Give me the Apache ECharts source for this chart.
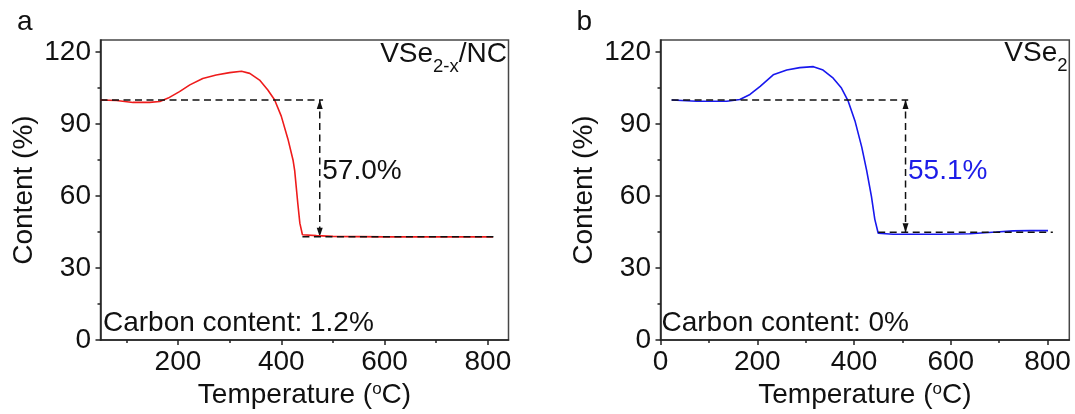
<!DOCTYPE html>
<html>
<head>
<meta charset="utf-8">
<script src="https://cdn.jsdelivr.net/npm/echarts@6/dist/echarts.min.js"></script>
<style>
  html, body { margin: 0; padding: 0; background: #fff; }
  #chart { width: 1075px; height: 414px; }
</style>
</head>
<body>
<div id="chart"></div>
<script>
// TGA curve of VSe2-x/NC (temperature in °C, remaining mass in %)
const tempA = [50, 81, 113, 145, 165, 181, 203, 223, 248, 274, 300, 323, 339, 358, 374, 387, 400, 413, 423, 426, 432, 436, 441, 468, 500, 600, 700, 810];
const contentA = [100.0, 99.8, 99.0, 99.0, 99.4, 100.8, 103.5, 106.3, 109.0, 110.4, 111.4, 112.0, 111.1, 108.3, 104.2, 100.1, 93.3, 83.7, 74.8, 70.6, 57.0, 48.7, 43.9, 43.5, 43.2, 43.0, 43.0, 43.0];

// TGA curve of VSe2
const tempB = [23, 75, 137, 164, 185, 206, 233, 261, 288, 316, 336, 357, 374, 388, 402, 416, 426, 436, 443, 450, 481, 525, 580, 639, 694, 729, 764, 801];
const contentB = [100.0, 99.5, 99.5, 100.2, 102.3, 105.7, 110.5, 112.5, 113.5, 113.9, 112.5, 109.1, 105.0, 99.5, 91.3, 80.4, 70.8, 59.9, 50.3, 44.5, 44.1, 44.1, 44.1, 44.3, 45.0, 45.5, 45.6, 45.6];

// mass loss between the start plateau and the final residue
const lossA = 57.0;
const lossB = 55.1;

// tick values
const yTicks = [0, 30, 60, 90, 120];
const yMinorTicks = [15, 45, 75, 105];
const xTicksA = [200, 400, 600, 800];
const xTicksB = [0, 200, 400, 600, 800];
const xMinorTicks = [100, 300, 500, 700];

const FONT = 'Liberation Sans, Arial, Helvetica, sans-serif';
const INK = '#111';
const AXIS = '#222';

const panels = [
  { temp: tempA, content: contentA, loss: lossA, color: '#ee1b1b', labelColor: INK,
    xMin: 50, xMax: 840, xTicks: xTicksA,
    grid: { left: 100.5, right: 566.5, top: 40, bottom: 70.5 },
    upper: [50, 481], lower: [441, 812], arrowX: 474.5 },
  { temp: tempB, content: contentB, loss: lossB, color: '#1818ee', labelColor: '#1c1ce8',
    xMin: 0, xMax: 845, xTicks: xTicksB,
    grid: { left: 660.5, right: 5.7, top: 40, bottom: 70 },
    upper: [23, 512], lower: [450, 811], arrowX: 506.5 }
];

const grids = [], xAxes = [], yAxes = [], series = [];

panels.forEach((p, i) => {
  grids.push(Object.assign({ show: true, borderColor: '#474747', borderWidth: 1.5,
    backgroundColor: 'transparent', containLabel: false }, p.grid));

  const baseLine = { lineStyle: { color: AXIS, width: 1.5 } };
  const labelStyle = { fontSize: 28, fontFamily: FONT, color: INK };

  // main x axis: line, major ticks, labels, title
  xAxes.push({
    gridIndex: i, type: 'value', position: 'bottom', min: p.xMin, max: p.xMax,
    axisLine: Object.assign({ show: true, onZero: false }, baseLine),
    axisTick: { show: true, inside: false, length: 5, customValues: p.xTicks, lineStyle: { color: AXIS, width: 1.5 } },
    axisLabel: Object.assign({ customValues: p.xTicks, margin: 8 }, labelStyle),
    splitLine: { show: false },
    name: 'Temperature ({sup|o}C)', nameLocation: 'middle', nameGap: 38,
    nameTextStyle: { fontSize: 28, lineHeight: 28, fontFamily: FONT, color: INK,
      rich: { sup: { fontSize: 17, lineHeight: 17, height: 17, verticalAlign: 'top', fontFamily: FONT, color: INK } } }
  });
  // minor x ticks
  xAxes.push({
    gridIndex: i, type: 'value', position: 'bottom', min: p.xMin, max: p.xMax,
    axisLine: { show: false },
    axisTick: { show: true, inside: false, length: 3, customValues: xMinorTicks, lineStyle: { color: AXIS, width: 1.5 } },
    axisLabel: { show: false }, splitLine: { show: false }
  });

  yAxes.push({
    gridIndex: i, type: 'value', position: 'left', min: 0, max: 125,
    axisLine: Object.assign({ show: true, onZero: false }, baseLine),
    axisTick: { show: true, inside: false, length: 5, customValues: yTicks, lineStyle: { color: AXIS, width: 1.5 } },
    axisLabel: Object.assign({ customValues: yTicks, margin: 9.5 }, labelStyle),
    splitLine: { show: false },
    name: 'Content (%)', nameLocation: 'middle', nameGap: 62,
    nameTextStyle: { fontSize: 28, fontFamily: FONT, color: INK }
  });
  yAxes.push({
    gridIndex: i, type: 'value', position: 'left', min: 0, max: 125,
    axisLine: { show: false },
    axisTick: { show: true, inside: false, length: 3, customValues: yMinorTicks, lineStyle: { color: AXIS, width: 1.5 } },
    axisLabel: { show: false }, splitLine: { show: false }
  });

  const xi = i * 2, yi = i * 2;
  const residue = 100 - p.loss;
  const dashed = { color: '#111', width: 1.5, type: [7, 4.5] };

  // measured curve
  series.push({
    type: 'line', xAxisIndex: xi, yAxisIndex: yi, showSymbol: false, symbol: 'none',
    data: p.temp.map((t, k) => [t, p.content[k]]),
    lineStyle: { color: p.color, width: 1.6 }, silent: true, animation: false
  });
  // guide lines at the start level and at the residue level
  series.push({
    type: 'line', xAxisIndex: xi, yAxisIndex: yi, symbol: 'none',
    data: [[p.upper[0], 100], [p.upper[1], 100]], lineStyle: dashed, animation: false
  });
  series.push({
    type: 'line', xAxisIndex: xi, yAxisIndex: yi, symbol: 'none',
    data: [[p.lower[0], residue], [p.lower[1], residue]], lineStyle: dashed, animation: false
  });
  // vertical double arrow spanning the mass loss
  series.push({
    type: 'line', xAxisIndex: xi, yAxisIndex: yi, symbol: 'none',
    data: [[p.arrowX, 100], [p.arrowX, residue]], lineStyle: dashed, animation: false
  });
  series.push({
    type: 'scatter', xAxisIndex: xi, yAxisIndex: yi, symbol: 'triangle', symbolSize: [6, 9],
    itemStyle: { color: '#111', opacity: 1 }, animation: false,
    data: [
      { value: [p.arrowX, 100], symbolRotate: 0, symbolOffset: [0, '50%'] },
      { value: [p.arrowX, residue], symbolRotate: 180, symbolOffset: [0, '-50%'] }
    ]
  });
  // loss value label beside the arrow
  series.push({
    type: 'scatter', xAxisIndex: xi, yAxisIndex: yi, symbolSize: 0, animation: false,
    itemStyle: { opacity: 1 },
    data: [[p.arrowX, 70.5]],
    label: { show: true, position: 'right', distance: 2.5, formatter: p.loss.toFixed(1) + '%',
      fontSize: 28, fontFamily: FONT, color: p.labelColor, opacity: 1 }
  });
});

const txt = (x, y, text) => ({
  type: 'text', x, y, silent: true,
  style: { text, fontSize: 28, fontFamily: FONT, fill: INK, verticalAlign: 'middle' }
});
// sample names with a lowered subscript
const chemRich = {
  m: { fontSize: 28, lineHeight: 28, height: 28, verticalAlign: 'top', fontFamily: FONT, color: INK, fontWeight: 'normal' },
  s: { fontSize: 18.5, lineHeight: 53, height: 53, verticalAlign: 'top', fontFamily: FONT, color: INK, fontWeight: 'normal' }
};
const chemTitle = (right, top, text) => ({
  text, right, top, padding: 0, itemGap: 0,
  textStyle: { fontSize: 28, fontWeight: 'normal', fontFamily: FONT, color: INK, rich: chemRich }
});

const chart = echarts.init(document.getElementById('chart'), null, { renderer: 'canvas' });
chart.setOption({
  animation: false,
  backgroundColor: '#fff',
  title: [
    chemTitle(568, 40.3, '{m|VSe}{s|2-x}{m|/NC}'),
    chemTitle(7.5, 39.6, '{m|VSe}{s|2}')
  ],
  grid: grids,
  xAxis: xAxes,
  yAxis: yAxes,
  series: series,
  graphic: [
    txt(17, 22.5, 'a'),
    txt(576.5, 22.5, 'b'),
    txt(103, 323.6, 'Carbon content: 1.2%'),
    txt(661.5, 323.6, 'Carbon content: 0%')
  ]
});
</script>
</body>
</html>
